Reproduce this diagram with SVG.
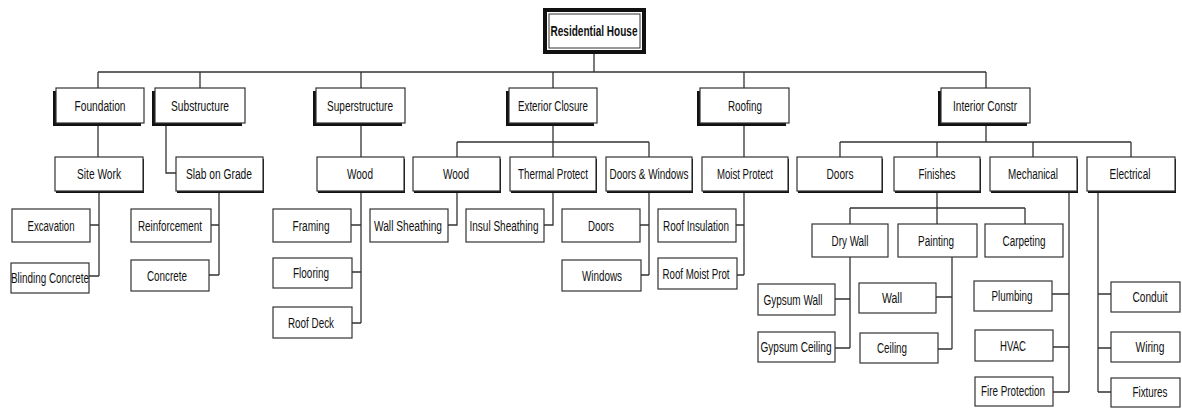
<svg xmlns="http://www.w3.org/2000/svg" width="1182" height="409" viewBox="0 0 1182 409">
<style>
.c{fill:none;stroke:#333;stroke-width:1.3}
.b{fill:#fff;stroke:#333;stroke-width:1.2}
.s{fill:#111;stroke:none}
.t{font-family:"Liberation Sans Narrow","Liberation Sans",Arial,sans-serif;font-size:14px;fill:#111;text-anchor:middle}
.r{font-weight:bold}
</style>
<rect width="1182" height="409" fill="#fff"/>
<g id="connectors">
<path class="c" d="M594 54V72M98 72H986M98 72V88M200 72V88M361 72V88M553 72V88M744 72V88M986 72V88"/>
<path class="c" d="M98 123V157M166 123V173H176M361 123V157M553 123V157M457 142H649M457 142V157M649 142V157M744 123V157M986 123V142M840 142H1131M840 142V157M937 142V157M1033 142V157M1131 142V157"/>
<path class="c" d="M99 192V276M90 225H99M89 276H99M219 192V275M211 225H219M209 275H219"/>
<path class="c" d="M361 192V323M351 225H361M352 272H361M352 323H361M457 192V225H448M553 192V225H544M649 192V275M640 225H649M641 275H649M744 192V275M736 225H744M737 275H744"/>
<path class="c" d="M937 192V224M850 208H1025M850 208V224M1025 208V224M850 257V348M835 299H850M835 348H850M952 257V349M936 297H952M938 349H952"/>
<path class="c" d="M1069 192V392M1052 294H1069M1053 347H1069M1053 392H1069M1098 192V392M1098 294H1111M1098 348H1111M1098 392H1111"/>
</g>
<g id="n-root">
<rect x="545" y="10" width="99" height="42" fill="#fff" stroke="#111" stroke-width="4"/>
<rect x="549" y="14" width="91" height="34" fill="none" stroke="#333" stroke-width="1"/>
<text class="t r" x="594" y="36" textLength="87" lengthAdjust="spacingAndGlyphs">Residential House</text>
</g>
<g id="n-foundation"><rect class="s" x="53" y="91" width="88" height="35"/><rect class="b" x="56" y="88" width="88" height="35"/><text class="t" x="100" y="110.5" textLength="51" lengthAdjust="spacingAndGlyphs">Foundation</text></g>
<g id="n-substructure"><rect class="s" x="152" y="91" width="90" height="35"/><rect class="b" x="155" y="88" width="90" height="35"/><text class="t" x="200" y="110.5" textLength="58" lengthAdjust="spacingAndGlyphs">Substructure</text></g>
<g id="n-superstructure"><rect class="s" x="313" y="91" width="89" height="35"/><rect class="b" x="316" y="88" width="89" height="35"/><text class="t" x="360" y="110.5" textLength="66" lengthAdjust="spacingAndGlyphs">Superstructure</text></g>
<g id="n-exterior"><rect class="s" x="506" y="91" width="88" height="35"/><rect class="b" x="509" y="88" width="88" height="35"/><text class="t" x="553" y="110.5" textLength="70" lengthAdjust="spacingAndGlyphs">Exterior Closure</text></g>
<g id="n-roofing"><rect class="s" x="697" y="91" width="89" height="35"/><rect class="b" x="700" y="88" width="89" height="35"/><text class="t" x="745" y="110.5" textLength="34" lengthAdjust="spacingAndGlyphs">Roofing</text></g>
<g id="n-interior"><rect class="s" x="938" y="91" width="89" height="35"/><rect class="b" x="941" y="88" width="89" height="35"/><text class="t" x="985" y="110.5" textLength="64" lengthAdjust="spacingAndGlyphs">Interior Constr</text></g>
<g id="n-sitework"><rect class="s" x="56" y="159" width="88" height="34"/><rect class="b" x="55" y="157" width="88" height="34"/><text class="t" x="99" y="179" textLength="44" lengthAdjust="spacingAndGlyphs">Site Work</text></g>
<g id="n-slab"><rect class="s" x="177" y="159" width="87" height="34"/><rect class="b" x="176" y="157" width="87" height="34"/><text class="t" x="219" y="179" textLength="66" lengthAdjust="spacingAndGlyphs">Slab on Grade</text></g>
<g id="n-wood1"><rect class="s" x="318" y="159" width="87" height="34"/><rect class="b" x="317" y="157" width="87" height="34"/><text class="t" x="360" y="179" textLength="26" lengthAdjust="spacingAndGlyphs">Wood</text></g>
<g id="n-wood2"><rect class="s" x="414" y="159" width="87" height="34"/><rect class="b" x="413" y="157" width="87" height="34"/><text class="t" x="456" y="179" textLength="26" lengthAdjust="spacingAndGlyphs">Wood</text></g>
<g id="n-thermal"><rect class="s" x="511" y="159" width="86" height="34"/><rect class="b" x="510" y="157" width="86" height="34"/><text class="t" x="553" y="179" textLength="70" lengthAdjust="spacingAndGlyphs">Thermal Protect</text></g>
<g id="n-doorswin"><rect class="s" x="607" y="159" width="86" height="34"/><rect class="b" x="606" y="157" width="86" height="34"/><text class="t" x="649" y="179" textLength="79" lengthAdjust="spacingAndGlyphs">Doors &amp; Windows</text></g>
<g id="n-moist"><rect class="s" x="703" y="159" width="86" height="34"/><rect class="b" x="702" y="157" width="86" height="34"/><text class="t" x="745" y="179" textLength="56" lengthAdjust="spacingAndGlyphs">Moist Protect</text></g>
<g id="n-doors-ic"><rect class="s" x="798" y="159" width="85" height="34"/><rect class="b" x="797" y="157" width="85" height="34"/><text class="t" x="840" y="179" textLength="27" lengthAdjust="spacingAndGlyphs">Doors</text></g>
<g id="n-finishes"><rect class="s" x="895" y="159" width="86" height="34"/><rect class="b" x="894" y="157" width="86" height="34"/><text class="t" x="937" y="179" textLength="37" lengthAdjust="spacingAndGlyphs">Finishes</text></g>
<g id="n-mechanical"><rect class="s" x="991" y="159" width="87" height="34"/><rect class="b" x="990" y="157" width="87" height="34"/><text class="t" x="1033" y="179" textLength="50" lengthAdjust="spacingAndGlyphs">Mechanical</text></g>
<g id="n-electrical"><rect class="s" x="1088" y="159" width="88" height="34"/><rect class="b" x="1087" y="157" width="88" height="34"/><text class="t" x="1130" y="179" textLength="41" lengthAdjust="spacingAndGlyphs">Electrical</text></g>
<g id="n-excavation"><rect class="b" x="12" y="209" width="78" height="33"/><text class="t" x="51" y="230.5" textLength="47" lengthAdjust="spacingAndGlyphs">Excavation</text></g>
<g id="n-blinding"><rect class="b" x="11" y="263" width="78" height="30"/><text class="t" x="50" y="283" textLength="78" lengthAdjust="spacingAndGlyphs">Blinding Concrete</text></g>
<g id="n-reinforcement"><rect class="b" x="131" y="209" width="80" height="33"/><text class="t" x="170" y="230.5" textLength="64" lengthAdjust="spacingAndGlyphs">Reinforcement</text></g>
<g id="n-concrete"><rect class="b" x="131" y="260" width="78" height="31"/><text class="t" x="167" y="280.5" textLength="40" lengthAdjust="spacingAndGlyphs">Concrete</text></g>
<g id="n-framing"><rect class="b" x="273" y="209" width="78" height="33"/><text class="t" x="311" y="230.5" textLength="37" lengthAdjust="spacingAndGlyphs">Framing</text></g>
<g id="n-flooring"><rect class="b" x="273" y="258" width="79" height="30"/><text class="t" x="311" y="277.5" textLength="36" lengthAdjust="spacingAndGlyphs">Flooring</text></g>
<g id="n-roofdeck"><rect class="b" x="273" y="307" width="79" height="31"/><text class="t" x="311" y="327.5" textLength="46" lengthAdjust="spacingAndGlyphs">Roof Deck</text></g>
<g id="n-wallsheathing"><rect class="b" x="370" y="209" width="78" height="33"/><text class="t" x="408" y="230.5" textLength="68" lengthAdjust="spacingAndGlyphs">Wall Sheathing</text></g>
<g id="n-insulsheathing"><rect class="b" x="466" y="209" width="78" height="33"/><text class="t" x="504" y="230.5" textLength="69" lengthAdjust="spacingAndGlyphs">Insul Sheathing</text></g>
<g id="n-doors-ext"><rect class="b" x="562" y="209" width="78" height="33"/><text class="t" x="601" y="230.5" textLength="26" lengthAdjust="spacingAndGlyphs">Doors</text></g>
<g id="n-windows"><rect class="b" x="562" y="260" width="79" height="31"/><text class="t" x="602" y="280.5" textLength="40" lengthAdjust="spacingAndGlyphs">Windows</text></g>
<g id="n-roofinsulation"><rect class="b" x="658" y="209" width="78" height="33"/><text class="t" x="696" y="230.5" textLength="66" lengthAdjust="spacingAndGlyphs">Roof Insulation</text></g>
<g id="n-roofmoist"><rect class="b" x="658" y="258" width="79" height="31"/><text class="t" x="696" y="278.5" textLength="67" lengthAdjust="spacingAndGlyphs">Roof Moist Prot</text></g>
<g id="n-drywall"><rect class="b" x="812" y="224" width="76" height="33"/><text class="t" x="850" y="245.5" textLength="37" lengthAdjust="spacingAndGlyphs">Dry Wall</text></g>
<g id="n-painting"><rect class="b" x="898" y="224" width="79" height="33"/><text class="t" x="936" y="245.5" textLength="36" lengthAdjust="spacingAndGlyphs">Painting</text></g>
<g id="n-carpeting"><rect class="b" x="985" y="224" width="78" height="33"/><text class="t" x="1024" y="245.5" textLength="43" lengthAdjust="spacingAndGlyphs">Carpeting</text></g>
<g id="n-gypsumwall"><rect class="b" x="758" y="284" width="77" height="31"/><text class="t" x="793" y="304.5" textLength="59" lengthAdjust="spacingAndGlyphs">Gypsum Wall</text></g>
<g id="n-gypsumceiling"><rect class="b" x="758" y="332" width="77" height="30"/><text class="t" x="796" y="351.5" textLength="71" lengthAdjust="spacingAndGlyphs">Gypsum Ceiling</text></g>
<g id="n-wall"><rect class="b" x="859" y="283" width="77" height="30"/><text class="t" x="892" y="302.5" textLength="20" lengthAdjust="spacingAndGlyphs">Wall</text></g>
<g id="n-ceiling"><rect class="b" x="860" y="333" width="78" height="30"/><text class="t" x="892" y="352.5" textLength="30" lengthAdjust="spacingAndGlyphs">Ceiling</text></g>
<g id="n-plumbing"><rect class="b" x="974" y="281" width="78" height="30"/><text class="t" x="1012" y="300.5" textLength="41" lengthAdjust="spacingAndGlyphs">Plumbing</text></g>
<g id="n-hvac"><rect class="b" x="975" y="330" width="78" height="31"/><text class="t" x="1013" y="350.5" textLength="26" lengthAdjust="spacingAndGlyphs">HVAC</text></g>
<g id="n-fire"><rect class="b" x="975" y="377" width="78" height="29"/><text class="t" x="1013" y="396" textLength="64" lengthAdjust="spacingAndGlyphs">Fire Protection</text></g>
<g id="n-conduit"><rect class="b" x="1111" y="282" width="69" height="30"/><text class="t" x="1150" y="301.5" textLength="35" lengthAdjust="spacingAndGlyphs">Conduit</text></g>
<g id="n-wiring"><rect class="b" x="1111" y="332" width="69" height="30"/><text class="t" x="1150" y="351.5" textLength="29" lengthAdjust="spacingAndGlyphs">Wiring</text></g>
<g id="n-fixtures"><rect class="b" x="1111" y="378" width="69" height="29"/><text class="t" x="1150" y="397" textLength="35" lengthAdjust="spacingAndGlyphs">Fixtures</text></g>
</svg>
